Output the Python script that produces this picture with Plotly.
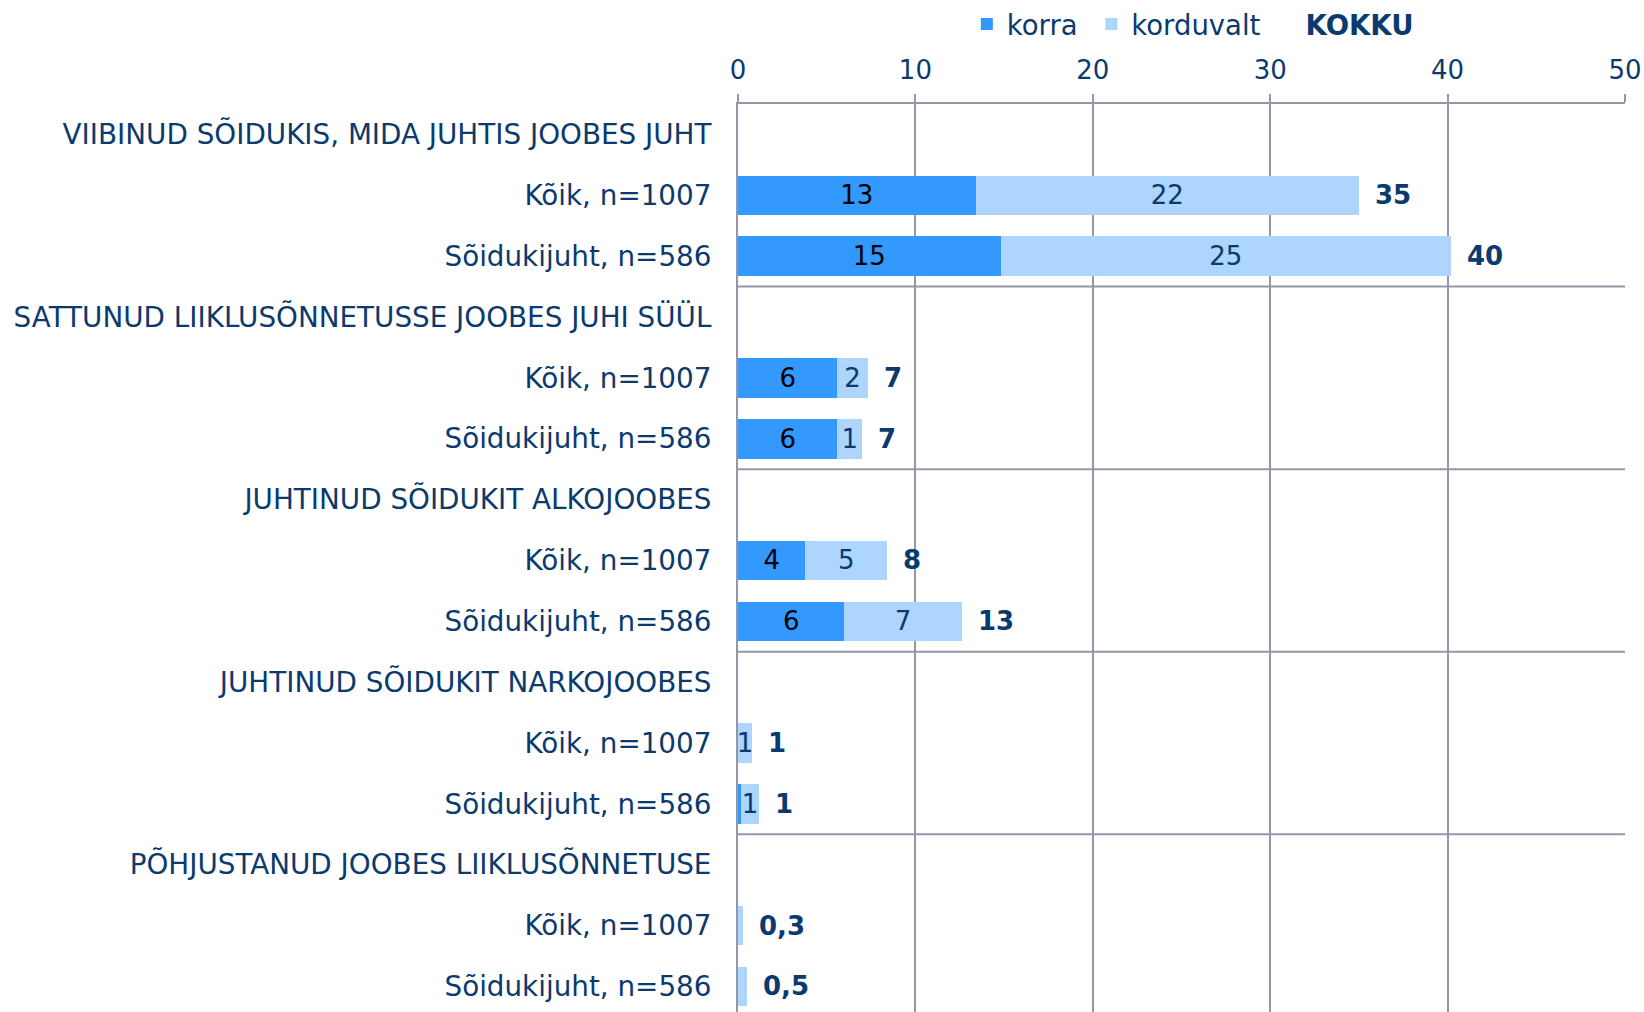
import plotly.graph_objects as go

# ---- data ----
row_labels = [
    "VIIBINUD SÕIDUKIS, MIDA JUHTIS JOOBES JUHT",
    "Kõik, n=1007",
    "Sõidukijuht, n=586",
    "SATTUNUD LIIKLUSÕNNETUSSE JOOBES JUHI SÜÜL",
    "Kõik, n=1007",
    "Sõidukijuht, n=586",
    "JUHTINUD SÕIDUKIT ALKOJOOBES",
    "Kõik, n=1007",
    "Sõidukijuht, n=586",
    "JUHTINUD SÕIDUKIT NARKOJOOBES",
    "Kõik, n=1007",
    "Sõidukijuht, n=586",
    "PÕHJUSTANUD JOOBES LIIKLUSÕNNETUSE",
    "Kõik, n=1007",
    "Sõidukijuht, n=586",
]
korra = [None, 13.4, 14.8, None, 5.6, 5.6, None, 3.8, 6.0, None, 0, 0.15, None, 0, 0]
korduvalt = [None, 21.6, 25.4, None, 1.7, 1.4, None, 4.6, 6.6, None, 0.8, 1.05, None, 0.3, 0.5]
kokku = [None, 35.0, 40.2, None, 7.3, 7.0, None, 8.4, 12.6, None, 0.8, 1.2, None, 0.3, 0.5]

korra_text = ["", "13", "15", "", "6", "6", "", "4", "6", "", "", "", "", "", ""]
korduvalt_text = ["", "22", "25", "", "2", "1", "", "5", "7", "", "1", "1", "", "", ""]
kokku_text = ["", "35", "40", "", "7", "7", "", "8", "13", "", "1", "1", "", "0,3", "0,5"]

x_ticks = [0, 10, 20, 30, 40, 50]

# ---- styles ----
FONT = "DejaVu Sans"
NAVY = "#0B3A6E"
C_KORRA = "#3399FF"
C_KORD = "#ADD5FD"
GRID = "#9397A8"
FS = 26

rows = list(range(len(row_labels)))
NB = "\u00a0"

fig = go.Figure()
fig.add_trace(go.Bar(
    name="korra" + NB, y=rows, x=korra, orientation="h",
    marker=dict(color=C_KORRA, line=dict(width=0)),
    text=korra_text, textposition="inside", insidetextanchor="middle",
    constraintext="none",
    textfont=dict(family=FONT, size=FS, color="#000000"),
    width=0.65, hoverinfo="skip",
))
fig.add_trace(go.Bar(
    name="korduvalt", y=rows, x=korduvalt, orientation="h",
    marker=dict(color=C_KORD, line=dict(width=0)),
    text=korduvalt_text, textposition="inside", insidetextanchor="middle",
    constraintext="none",
    textfont=dict(family=FONT, size=FS, color=NAVY),
    width=0.65, hoverinfo="skip",
))
fig.add_trace(go.Scatter(
    name="<b>KOKKU</b>", y=rows, x=kokku, mode="markers",
    marker=dict(color="rgba(0,0,0,0)", size=1),
    hoverinfo="skip",
))

for r, v, t in zip(rows, kokku, kokku_text):
    if v is None:
        continue
    fig.add_annotation(
        x=v, y=r, xref="x", yref="y", text=f"<b>{t}</b>",
        showarrow=False, xanchor="left", yanchor="middle", xshift=14,
        font=dict(family=FONT, size=FS, color=NAVY),
    )

n_groups = len(row_labels) // 3
for g in range(1, n_groups):
    fig.add_shape(type="line", xref="paper", yref="y", x0=0, x1=1,
                  y0=g * 3 - 0.5, y1=g * 3 - 0.5,
                  line=dict(color=GRID, width=2), layer="below")

fig.update_layout(
    width=1644, height=1012,
    margin=dict(l=738, r=19, t=104, b=0, autoexpand=False),
    barmode="stack",
    plot_bgcolor="white", paper_bgcolor="white",
    font=dict(family=FONT, size=FS, color=NAVY),
    showlegend=True,
    legend=dict(
        orientation="h", traceorder="normal",
        x=0.258, y=1.115, xanchor="left", yanchor="top",
        font=dict(family=FONT, size=27.5, color=NAVY),
        itemwidth=30, bgcolor="rgba(0,0,0,0)",
    ),
    xaxis=dict(
        side="top", range=[0, 50], tickvals=x_ticks,
        showgrid=True, gridcolor=GRID, gridwidth=2,
        showline=True, linecolor=GRID, linewidth=2,
        ticks="outside", ticklen=8, tickwidth=2, tickcolor=GRID,
        zeroline=False, tickfont=dict(family=FONT, size=FS, color=NAVY),
        ticklabelstandoff=5, fixedrange=True,
    ),
    yaxis=dict(
        range=[14.42, -0.5], tickvals=rows, ticktext=row_labels,
        showgrid=False, zeroline=False, showline=True,
        linecolor=GRID, linewidth=2, ticks="",
        tickfont=dict(family=FONT, size=27.8, color=NAVY),
        ticklabelstandoff=19, automargin=False, fixedrange=True,
    ),
)

fig.write_html(
    "out.html",
    config={"displayModeBar": False},
    post_script="document.body.style.margin='0';document.body.style.overflow='hidden';",
)
